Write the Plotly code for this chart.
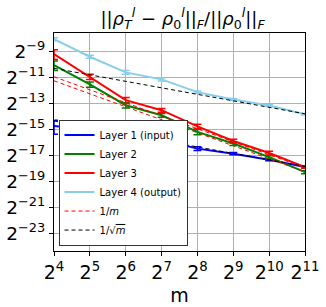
import numpy as np
import plotly.graph_objects as go

m = [16, 32, 64, 128, 256, 512, 1024, 2048]
x_exp = [4, 5, 6, 7, 8, 9, 10, 11]
y_exp = [-9, -11, -13, -15, -17, -19, -21, -23]

# log2 of mean values
layer1 = [-14.74, -15.02, -15.80, -15.80, -16.49, -16.88, -17.34, -17.91]
layer2 = [-10.06, -11.55, -13.15, -13.92, -15.20, -16.10, -17.14, -18.30]
layer3 = [-9.21, -10.96, -12.76, -13.53, -14.78, -15.90, -16.83, -17.91]
layer4 = [-8.07, -9.42, -10.62, -11.16, -12.14, -12.71, -13.17, -13.84]
# relative (linear) error sizes
err1 = [0.36, 0.12, 0.14, 0.12, 0.10, 0.06, 0.06, 0.06]
err2 = [0.25, 0.14, 0.14, 0.10, 0.14, 0.10, 0.08, 0.08]
err3 = [0.25, 0.14, 0.16, 0.10, 0.12, 0.10, 0.10, 0.06]
err4 = [0.08, 0.08, 0.10, 0.08, 0.06, 0.05, 0.05, 0.04]

# reference line constants (log2 value at m = 16)
inv_m_start = [-10.96, -11.27]
inv_sqrt_start = [-10.31, -14.36]

names = ["Layer 1 (input)", "Layer 2", "Layer 3", "Layer 4 (output)"]
colors = ["#0000ff", "#008000", "#ff0000", "#87ceeb"]

fig = go.Figure()
for name, col, vals, err in zip(names, colors, [layer1, layer2, layer3, layer4],
                                [err1, err2, err3, err4]):
    y = np.power(2.0, vals)
    e = y * np.array(err)
    fig.add_trace(go.Scatter(
        x=m, y=y, mode="lines", name=name,
        line=dict(color=col, width=2),
        error_y=dict(type="data", array=e, arrayminus=e, color=col,
                     thickness=1.5, width=4),
    ))

m_arr = np.array(m, dtype=float)
for i, s in enumerate(inv_m_start):
    fig.add_trace(go.Scatter(
        x=m, y=np.power(2.0, s) * 16 / m_arr, mode="lines",
        name="1/<i>m</i>", showlegend=(i == 0),
        line=dict(color="#ff0000", width=1, dash="4px,3px"),
    ))
for i, s in enumerate(inv_sqrt_start):
    fig.add_trace(go.Scatter(
        x=m, y=np.power(2.0, s) * 4 / np.sqrt(m_arr), mode="lines",
        name="1/√<span style='text-decoration:overline'><i>m</i></span>",
        showlegend=(i == 0),
        line=dict(color="#000000", width=1, dash="4px,3px"),
    ))

l2 = np.log10(2)
fig.update_layout(
    width=326, height=307,
    margin=dict(l=54, r=21, t=33, b=56, autoexpand=False),
    paper_bgcolor="white", plot_bgcolor="white",
    font=dict(family="DejaVu Sans", color="black"),
    title=dict(text="||<i>ρ</i><sub><i>T</i></sub><sup><i>l</i></sup> − <i>ρ</i><sub>0</sub><sup><i>l</i></sup>||<sub><i>F</i></sub>/||<i>ρ</i><sub>0</sub><sup><i>l</i></sup>||<sub><i>F</i></sub>",
               x=0.56, xanchor="center", y=0.94, yanchor="middle",
               font=dict(size=18)),
    showlegend=True,
    legend=dict(x=0.018, y=0.025, xanchor="left", yanchor="bottom",
                bgcolor="white", bordercolor="#333333", borderwidth=1,
                font=dict(size=10), tracegroupgap=0, itemwidth=30),
)
fig.update_xaxes(
    type="log", range=[4 * l2, 11 * l2], automargin=False,
    tickvals=[2.0 ** e for e in x_exp],
    ticktext=[f"2<sup>{e}</sup>" for e in x_exp],
    tickfont=dict(size=19), ticks="outside", ticklen=4, tickcolor="black",
    ticklabeloverflow="allow",
    showgrid=True, gridcolor="#b0b0b0", gridwidth=1,
    showline=True, linecolor="black", linewidth=1, mirror=True,
    title=dict(text="m", font=dict(size=19), standoff=6),
)
fig.update_yaxes(
    type="log", range=[-24.37 * l2, -7.59 * l2], automargin=False,
    tickvals=[2.0 ** e for e in y_exp],
    ticktext=[f"2<sup>−{-e}</sup>" for e in y_exp],
    tickfont=dict(size=18.5), ticks="outside", ticklen=4, tickcolor="black",
    ticklabeloverflow="allow",
    showgrid=True, gridcolor="#b0b0b0", gridwidth=1,
    showline=True, linecolor="black", linewidth=1, mirror=True,
)
fig.write_html("out.html", config={"displayModeBar": False},
               post_script="document.body.style.margin='0';")
